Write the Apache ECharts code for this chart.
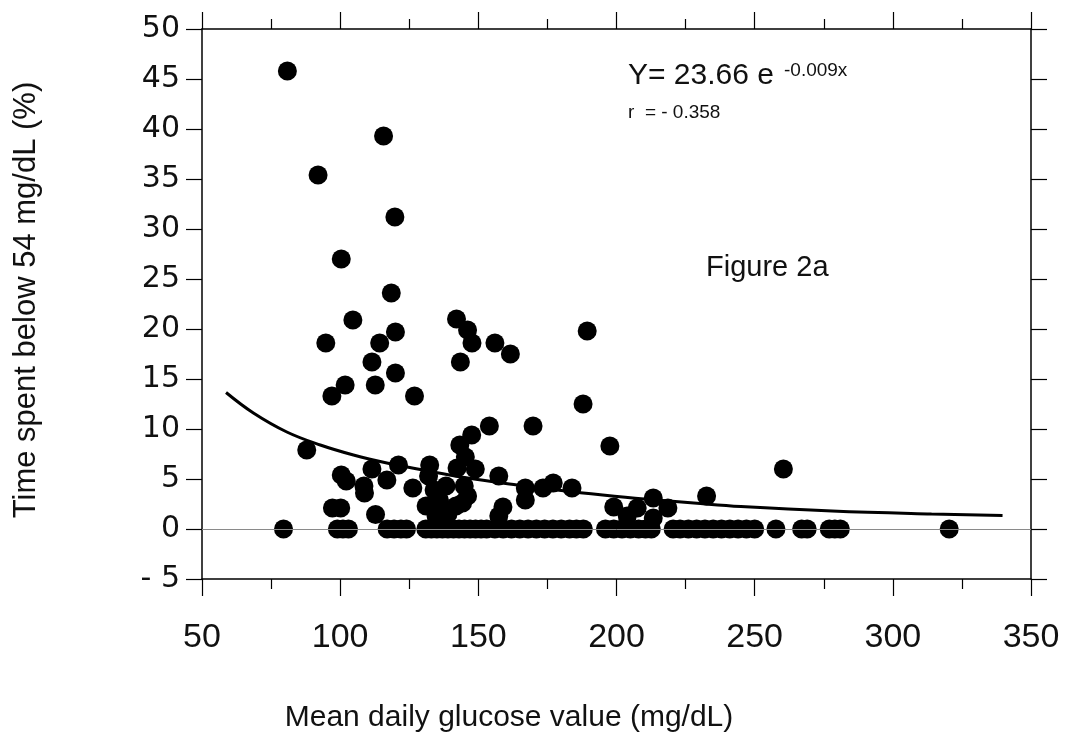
<!DOCTYPE html>
<html>
<head>
<meta charset="utf-8">
<script src="https://cdn.jsdelivr.net/npm/echarts@6/dist/echarts.min.js"></script>
<style>
html,body{margin:0;padding:0;background:#fff;}
#chart{width:1072px;height:736px;}
</style>
</head>
<body>
<div id="chart"></div>
<script>
// Mean daily glucose (mg/dL) vs time spent below 54 mg/dL (%)
const upperPoints = [
  [80.9,45.8],[115.7,39.3],[92.0,35.4],[119.8,31.2],[100.4,27.0],[118.5,23.6],
  [104.6,20.9],[120.0,19.7],[94.8,18.6],[114.3,18.6],[111.5,16.7],[120.0,15.6],
  [142.1,21.0],[146.1,19.9],[147.7,18.6],[156.0,18.6],[161.6,17.5],[143.5,16.7],
  [189.4,19.8]
];
const midPoints = [
  [101.8,14.4],[97.0,13.3],[112.7,14.4],[126.9,13.3],[87.9,7.9],[154.0,10.3],
  [169.8,10.3],[187.9,12.5],[197.6,8.3],[147.6,9.4],[143.3,8.4],[145.3,7.2],
  [142.3,6.1],[148.9,6.0],[132.4,6.4],[121.1,6.4],[116.9,4.9],[111.5,6.0],
  [100.4,5.4],[102.2,4.8],[108.6,4.3],[108.8,3.6],[97.2,2.1],[100.2,2.1],
  [112.8,1.45],[126.3,4.1],[157.4,5.3],[158.9,2.2],[157.4,1.3],[167.0,4.1],
  [167.0,2.9],[173.4,4.1],[177.1,4.6],[183.9,4.1],[199.0,2.2],[203.9,1.3],
  [207.5,2.1],[213.3,3.1],[213.3,1.1],[218.6,2.1],[232.6,3.3],[260.4,6.0]
];
const clusterPoints = [
  [132.0,5.3],[134.0,3.9],[136.5,2.3],[141.9,2.3],[146.1,3.3],[144.9,4.3],
  [134.7,1.3],[139.0,1.5],[138.3,4.3],[131.1,2.3],[144.3,2.6],[135.9,2.9]
];
const zeroX = [
  79.5, 99, 101, 103, 117, 119.5, 122, 124,
  131, 133, 135, 137, 139, 141, 143, 145, 147, 149, 151, 153, 156, 159, 162,
  165, 168, 171, 174, 177, 180, 183, 185.5, 188,
  196, 199, 202, 205, 208, 210.5, 212.6,
  220.5, 223, 226, 229, 232, 235, 238, 241, 244, 247, 250,
  257.7, 267, 269, 277, 279, 281, 320.4
];
// fitted curve Y = 23.66 e^(-0.009x)
const fitCurve = [
  [58.7,13.65],[68.6,11.6],[80.7,9.7],[92.8,8.4],[104.8,7.4],[116.9,6.6],
  [130.0,5.9],[145.0,5.15],[164.0,4.4],[180.0,3.85],[195.0,3.4],[210.0,3.0],
  [228.0,2.6],[245.0,2.25],[278.0,1.8],[314.0,1.5],[339.7,1.35]
];
const xTitle = 'Mean daily glucose value (mg/dL)';
const yTitle = 'Time spent below 54 mg/dL (%)';

const scatterData = upperPoints.concat(midPoints, clusterPoints, zeroX.map(x => [x, 0]));

const chart = echarts.init(document.getElementById('chart'), null, {renderer: 'canvas'});
const axisLine = {show: true, onZero: false, lineStyle: {color: '#000', width: 1.5}};
const tickStyle = {color: '#000', width: 1.2};
chart.setOption({
  animation: false,
  backgroundColor: '#fff',
  grid: {left: 202, right: 41, top: 29, bottom: 157},
  xAxis: [
    {
      type: 'value', min: 50, max: 350, interval: 50, position: 'bottom',
      axisLine: axisLine,
      axisTick: {show: true, length: 17, lineStyle: tickStyle},
      minorTick: {show: true, splitNumber: 2, length: 10, lineStyle: tickStyle},
      splitLine: {show: false},
      axisLabel: {margin: 42, fontFamily: '"Liberation Sans Narrow", "Liberation Sans", sans-serif', fontSize: 34, color: '#111'}
    },
    {
      type: 'value', min: 50, max: 350, interval: 50, position: 'top',
      axisLine: axisLine,
      axisTick: {show: true, length: 17, lineStyle: tickStyle},
      minorTick: {show: true, splitNumber: 2, length: 10, lineStyle: tickStyle},
      splitLine: {show: false},
      axisLabel: {show: false}
    }
  ],
  yAxis: [
    {
      type: 'value', min: -5, max: 50, interval: 5, position: 'left',
      axisLine: axisLine,
      axisTick: {show: true, length: 16, lineStyle: tickStyle},
      splitLine: {show: false},
      axisLabel: {
        margin: 22, fontFamily: '"DejaVu Sans", sans-serif', fontSize: 30, color: '#111',
        formatter: v => v < 0 ? '- ' + Math.abs(v) : String(v)
      }
    },
    {
      type: 'value', min: -5, max: 50, interval: 5, position: 'right',
      axisLine: axisLine,
      axisTick: {show: true, length: 16, lineStyle: tickStyle},
      splitLine: {show: false},
      axisLabel: {show: false}
    }
  ],
  series: [
    {
      type: 'line', data: fitCurve, smooth: 0.4, showSymbol: false, symbol: 'none',
      lineStyle: {color: '#000', width: 3}, z: 3,
      markLine: {
        silent: true, symbol: 'none', label: {show: false},
        lineStyle: {color: '#8a8a8a', width: 1, type: 'solid'},
        data: [{yAxis: 0}]
      }
    },
    {
      type: 'scatter', data: scatterData, symbol: 'circle', symbolSize: 19,
      itemStyle: {color: '#000', opacity: 1}, z: 4
    }
  ],
  graphic: [
    {type: 'text', left: 628, top: 61, style: {text: 'Y= 23.66 e', font: '30px "Liberation Sans", Arial, sans-serif', fill: '#111'}},
    {type: 'text', left: 784, top: 61, style: {text: '-0.009x', font: '19px "Liberation Sans Narrow", "Liberation Sans", sans-serif', fill: '#111'}},
    {type: 'text', left: 628, top: 103, style: {text: 'r  = - 0.358', font: '19px "Liberation Sans Narrow", "Liberation Sans", sans-serif', fill: '#111'}},
    {type: 'text', left: 706, top: 253, style: {text: 'Figure 2a', font: '29px "Liberation Sans", Arial, sans-serif', fill: '#111'}},
    {type: 'text', x: 509, y: 718, style: {text: xTitle, font: '30px "Liberation Sans", Arial, sans-serif', fill: '#111', align: 'center', verticalAlign: 'middle'}},
    {type: 'text', x: 26, y: 300, rotation: Math.PI / 2, style: {text: yTitle, font: '31px "Liberation Sans", Arial, sans-serif', fill: '#111', align: 'center', verticalAlign: 'middle'}}
  ]
});
</script>
</body>
</html>
